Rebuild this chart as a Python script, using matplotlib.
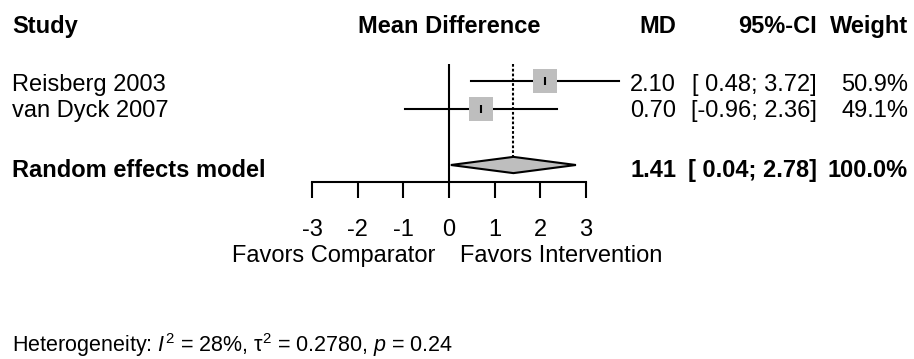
import matplotlib
matplotlib.use("Agg")
import matplotlib.pyplot as plt
import matplotlib.transforms as mtransforms
import numpy as np

# ---- data -------------------------------------------------------------
studies = ["Reisberg 2003", "van Dyck 2007"]
md = [2.10, 0.70]
ci_low = [0.48, -0.96]
ci_high = [3.72, 2.36]
weights = [50.9, 49.1]

pooled_label = "Random effects model"
pooled_md = 1.41
pooled_low = 0.04
pooled_high = 2.78
pooled_weight = 100.0

x_ticks = [-3, -2, -1, 0, 1, 2, 3]
label_left = "Favors Comparator"
label_right = "Favors Intervention"
heterogeneity = r"Heterogeneity: $\mathit{I}^2$ = 28%, $\mathrm{\tau}^2$ = 0.2780, $\mathit{p}$ = 0.24"

headers = ["Study", "Mean Difference", "MD", "95%-CI", "Weight"]

# ---- style ------------------------------------------------------------
plt.rcParams["font.family"] = ["Liberation Sans", "DejaVu Sans"]
plt.rcParams["axes.unicode_minus"] = False
plt.rcParams["mathtext.fontset"] = "custom"
plt.rcParams["mathtext.rm"] = "Liberation Sans"
plt.rcParams["mathtext.it"] = "Liberation Sans:italic"
plt.rcParams["mathtext.bf"] = "Liberation Sans:bold"

FS = 17
FS_HET = 15.5
LW = 1.5
BOX_GREY = "#BEBEBE"

W, H = 914, 359
fig = plt.figure(figsize=(W / 100, H / 100), dpi=100)


def fx(px):
    return px / W


def fy(px):
    return 1 - px / H


# forest panel: x from -3 to 3, rows counted downward
ax_left, ax_right = 312, 586
ax_top, ax_bottom = 64.2, 181.8
ax = fig.add_axes([fx(ax_left), fy(ax_bottom), (ax_right - ax_left) / W,
                   (ax_bottom - ax_top) / H])
ax.set_xlim(-3, 3)
ax.set_ylim(4.6, 0.4)
ax.patch.set_visible(False)
for side in ["top", "left", "right"]:
    ax.spines[side].set_visible(False)
ax.spines["bottom"].set_bounds(-3, 3)
ax.spines["bottom"].set_linewidth(LW)
ax.set_yticks([])
ax.set_xticks(x_ticks)
ax.set_xticklabels([str(t) for t in x_ticks], fontsize=FS)
ax.tick_params(axis="x", direction="out", length=11.5, width=LW, pad=15)

rows = [1, 2]
pooled_row = 4

# line of no effect
ax.axvline(0, color="black", lw=LW, zorder=1)

# pooled estimate reference (dotted)
half_h = 0.29
ax.plot([pooled_md, pooled_md], [0.4, pooled_row - half_h], color="black",
        lw=LW, linestyle=(0, (1.3, 1.0)), zorder=1, clip_on=False)

# study CIs, boxes and estimate ticks
for r, m, lo, hi, w in zip(rows, md, ci_low, ci_high, weights):
    ax.plot([lo, hi], [r, r], color="black", lw=LW, zorder=2, clip_on=False)
    ax.plot([m], [r], marker="s", markersize=17.3 * np.sqrt(w / 50.0),
            markerfacecolor=BOX_GREY, markeredgewidth=0, linestyle="none",
            zorder=3, clip_on=False)
    ax.plot([m], [r], marker="|", markersize=6, markeredgewidth=LW,
            color="black", linestyle="none", zorder=4, clip_on=False)

# pooled diamond
dx = [pooled_low, pooled_md, pooled_high, pooled_md, pooled_low]
dy = [pooled_row, pooled_row - half_h, pooled_row, pooled_row + half_h, pooled_row]
ax.fill(dx, dy, facecolor=BOX_GREY, edgecolor="black", lw=LW, zorder=3,
        clip_on=False)

# ---- text columns -----------------------------------------------------
x_study = 12
x_md = 676
x_ci = 817
x_wt = 908

y_header = 33
y_rows = [91, 117]
y_pooled = 177

hdr = dict(fontsize=FS, fontweight="bold", va="baseline")
fig.text(fx(x_study), fy(y_header), headers[0], ha="left", **hdr)
mixed = mtransforms.blended_transform_factory(ax.transData, fig.transFigure)
fig.text(0, fy(y_header), headers[1], ha="center", transform=mixed, **hdr)
fig.text(fx(x_md), fy(y_header), headers[2], ha="right", **hdr)
fig.text(fx(x_ci), fy(y_header), headers[3], ha="right", **hdr)
fig.text(fx(x_wt), fy(y_header), headers[4], ha="right", **hdr)


def fmt_ci(lo, hi):
    lo_s = f"{lo:.2f}" if lo < 0 else f" {lo:.2f}"
    return f"[{lo_s}; {hi:.2f}]"


reg = dict(fontsize=FS, va="baseline")
for yb, name, m, lo, hi, w in zip(y_rows, studies, md, ci_low, ci_high, weights):
    fig.text(fx(x_study), fy(yb), name, ha="left", **reg)
    fig.text(fx(x_md), fy(yb), f"{m:.2f}", ha="right", **reg)
    fig.text(fx(x_ci), fy(yb), fmt_ci(lo, hi), ha="right", **reg)
    fig.text(fx(x_wt), fy(yb), f"{w:.1f}%", ha="right", **reg)

bold = dict(fontsize=FS, fontweight="bold", va="baseline")
fig.text(fx(x_study), fy(y_pooled), pooled_label, ha="left", **bold)
fig.text(fx(x_md), fy(y_pooled), f"{pooled_md:.2f}", ha="right", **bold)
fig.text(fx(x_ci), fy(y_pooled), fmt_ci(pooled_low, pooled_high), ha="right", **bold)
fig.text(fx(x_wt), fy(y_pooled), f"{pooled_weight:.1f}%", ha="right", **bold)

# direction labels under the axis
y_fav = 262
fig.text(-0.3, fy(y_fav), label_left, ha="right", transform=mixed, **reg)
fig.text(0.25, fy(y_fav), label_right, ha="left", transform=mixed, **reg)

# heterogeneity statistics
fig.text(fx(x_study), fy(352), heterogeneity, ha="left",
         fontsize=FS_HET, va="baseline")

fig.savefig("out.png", dpi=100, facecolor="white")
